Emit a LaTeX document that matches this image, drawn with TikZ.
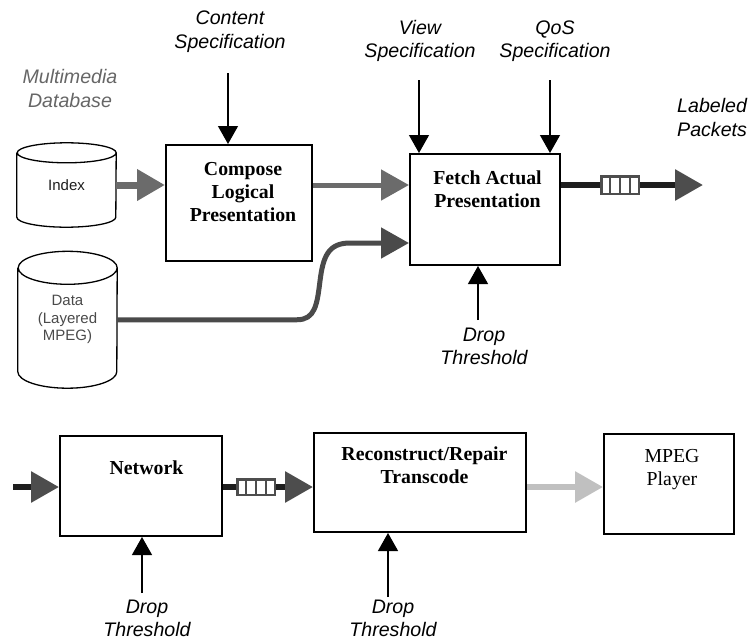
\documentclass[tikz,border=0pt]{standalone}
\usepackage{fontspec}
\setmainfont{Liberation Serif}
\setsansfont{Liberation Sans}
\usetikzlibrary{arrows.meta,calc}
\definecolor{pipegray}{HTML}{6B6B6B}
\definecolor{datagray}{HTML}{4A4A4A}
\definecolor{headgray}{HTML}{4D4D4D}
\definecolor{wiredark}{HTML}{1E1E1E}
\definecolor{fadegray}{HTML}{C0C0C0}
\definecolor{textgray}{HTML}{666666}

\begin{document}
\begin{tikzpicture}[x=1pt,y=-1pt,
  spec/.style={inner sep=0pt, align=center, font=\sffamily\itshape\fontsize{19.6}{23.5}\selectfont},
  proc/.style={draw, line width=1.6pt, fill=white},
  proctext/.style={anchor=north, inner sep=0pt, yshift=#1, align=center, font=\bfseries\fontsize{19.8}{23}\selectfont},
  dbtext/.style={inner sep=0pt, align=center, font=\sffamily\fontsize{15}{17.5}\selectfont},
  dbline/.style={line width=1.3pt},
  ctrl/.style={line width=1.3pt, -{Triangle[length=18pt,width=20pt]}},
  bighead/.style={-{Triangle[length=28pt,width=30pt,color=#1]}},
  pipe/.style={draw=#1, bighead=#1},
  wire/.style={draw=wiredark, line width=6pt},
  qbox/.style={draw=headgray, line width=2.5pt, fill=white, inner sep=0pt, minimum width=37.5pt}]
\useasboundingbox (0,0) rectangle (751,642);
%\node {\includegraphics{reference.png}};
\node[spec] (content) at (230,31.5) {Content\\Specification};
\node[spec] (view) at (420,41) {View\\Specification};
\node[spec] (qos) at (555,41) {QoS\\Specification};
\node[spec, text=textgray] (mmdb) at (70,88.5) {Multimedia\\Database};
\node[spec, anchor=west, align=left] (pkts) at (677,117.5) {Labeled\\Packets};

\node[dbtext, text=wiredark, minimum width=99pt, minimum height=64pt] (idx) at (66.5,185) {Index};
\draw[dbline] (idx.north west) -- (idx.south west)
  arc[start angle=180, end angle=360, x radius=49.5pt, y radius=10pt] -- (idx.north east)
  arc[start angle=0, end angle=180, x radius=49.5pt, y radius=10pt]
  arc[start angle=180, end angle=360, x radius=49.5pt, y radius=10pt];
\node[dbtext, text=datagray, minimum width=99pt, minimum height=103.5pt] (dat) at (67.5,319.75) {Data\\(Layered\\MPEG)};
\draw[dbline] (dat.north west) -- (dat.south west)
  arc[start angle=180, end angle=360, x radius=49.5pt, y radius=16.5pt] -- (dat.north east)
  arc[start angle=0, end angle=180, x radius=49.5pt, y radius=16.5pt]
  arc[start angle=180, end angle=360, x radius=49.5pt, y radius=16.5pt];

\node[proc, minimum width=146.4pt, minimum height=116.4pt,
  label={[proctext=-18pt, xshift=4pt]north:{Compose\\Logical\\Presentation}}] (compose) at (239,203) {};
\node[proc, minimum width=150.4pt, minimum height=111.4pt,
  label={[proctext=-17.5pt, xshift=2.5pt]north:{Fetch Actual\\Presentation}}] (fetch) at (485,209.5) {};

\draw[pipe=pipegray, line width=7pt] (idx.east) -- (idx.east -| compose.west);
\draw[pipe=pipegray, line width=5pt] (idx.east -| compose.east) -- (idx.east -| fetch.west);
\coordinate (din) at (fetch.west |- 0,243);
\draw[pipe=datagray, line width=5pt] (dat.east) -- (297,319.75)
  .. controls (315,319.75) and (317,305) .. (320,281)
  .. controls (323,257) and (328,243) .. (350,243) -- (din);

\node[qbox, minimum height=17.5pt] (qa) at (620,185) {};
\coordinate (pkt) at (703,185);
\draw[wire] (fetch.east |- qa) -- (qa.west);
\draw[wire, bighead=headgray] (qa.east) -- (pkt);

\coordinate (csrc) at (228,73);
\coordinate (vsrc) at (419,80);
\coordinate (qsrc) at (550,80);
\coordinate (fthr) at (478,320);
\draw[ctrl] (csrc) -- (csrc |- compose.north);
\draw[ctrl] (vsrc) -- (vsrc |- fetch.north);
\draw[ctrl] (qsrc) -- (qsrc |- fetch.north);
\draw[ctrl] (fthr) -- (fthr |- fetch.south);
\node[spec] (fdrop) at (484,346.5) {Drop\\Threshold};

\node[proc, minimum width=162.4pt, minimum height=100.4pt,
  label={[proctext=-26pt, xshift=5.5pt]north:Network}] (net) at (141,486) {};
\node[proc, minimum width=212.4pt, minimum height=99.4pt,
  label={[proctext=-15pt, xshift=4.5pt]north:{Reconstruct/Repair\\Transcode}}] (rec) at (420,482.5) {};
\node[proc, minimum width=130.4pt, minimum height=100.4pt,
  label={[proctext=-16pt, xshift=3pt, font=\fontsize{19.8}{23}\selectfont]north:{MPEG\\Player}}] (mpeg) at (669,484) {};

\coordinate (netin) at (13,487);
\node[qbox, minimum height=15.5pt] (qb) at (256,487) {};
\draw[wire, bighead=headgray] (netin) -- (netin -| net.west);
\draw[wire] (net.east |- qb) -- (qb.west);
\draw[wire, bighead=headgray] (qb.east) -- (qb -| rec.west);
\draw[pipe=fadegray, line width=6pt] (qb -| rec.east) -- (qb -| mpeg.west);

\foreach \q in {qa,qb}
  \foreach \i in {1,2,3}
    \draw[headgray, line width=2.5pt] ($(\q.north west)!\i/4!(\q.north east)$) -- ($(\q.south west)!\i/4!(\q.south east)$);

\coordinate (nthr) at (142,593);
\coordinate (rthr) at (388,597);
\draw[ctrl] (nthr) -- (nthr |- net.south);
\draw[ctrl] (rthr) -- (rthr |- rec.south);
\node[spec] (ndrop) at (147,618.5) {Drop\\Threshold};
\node[spec] (rdrop) at (393,618.5) {Drop\\Threshold};
\end{tikzpicture}
\end{document}
